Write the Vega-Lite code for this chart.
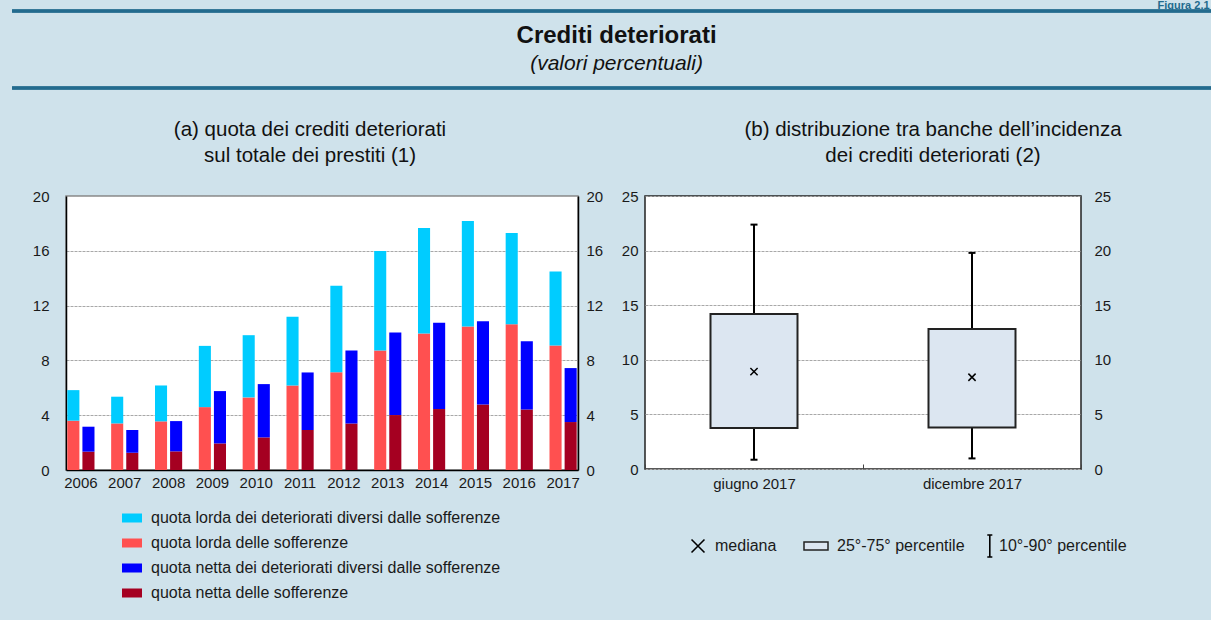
{
  "$schema": "https://vega.github.io/schema/vega-lite/v6.json",
  "background": "#cfe2eb",
  "padding": {"left": 10, "top": 0, "right": 0, "bottom": 18},
  "config": {
    "font": "Liberation Sans",
    "view": {"fill": "white"},
    "axis": {"labelFont": "Liberation Sans", "labelFontSize": 15, "labelColor": "#1a1a1a"},
    "legend": {"labelFont": "Liberation Sans", "labelColor": "#1a1a1a"},
    "title": {"font": "Liberation Sans"}
  },
  "datasets": {
    "testata": [
      {"ruolo": "titolo", "testo": "Crediti deteriorati"},
      {"ruolo": "sottotitolo", "testo": "(valori percentuali)"},
      {"ruolo": "figura", "testo": "Figura 2.1"}
    ],
    "barre": [
      {"anno": "2006", "tipo": "lorda", "serie": "quota lorda delle sofferenze", "inizio": 0, "fine": 3.6},
      {"anno": "2006", "tipo": "lorda", "serie": "quota lorda dei deteriorati diversi dalle sofferenze", "inizio": 3.6, "fine": 5.83},
      {"anno": "2006", "tipo": "netta", "serie": "quota netta delle sofferenze", "inizio": 0, "fine": 1.34},
      {"anno": "2006", "tipo": "netta", "serie": "quota netta dei deteriorati diversi dalle sofferenze", "inizio": 1.34, "fine": 3.16},
      {"anno": "2007", "tipo": "lorda", "serie": "quota lorda delle sofferenze", "inizio": 0, "fine": 3.4},
      {"anno": "2007", "tipo": "lorda", "serie": "quota lorda dei deteriorati diversi dalle sofferenze", "inizio": 3.4, "fine": 5.35},
      {"anno": "2007", "tipo": "netta", "serie": "quota netta delle sofferenze", "inizio": 0, "fine": 1.26},
      {"anno": "2007", "tipo": "netta", "serie": "quota netta dei deteriorati diversi dalle sofferenze", "inizio": 1.26, "fine": 2.92},
      {"anno": "2008", "tipo": "lorda", "serie": "quota lorda delle sofferenze", "inizio": 0, "fine": 3.55},
      {"anno": "2008", "tipo": "lorda", "serie": "quota lorda dei deteriorati diversi dalle sofferenze", "inizio": 3.55, "fine": 6.17},
      {"anno": "2008", "tipo": "netta", "serie": "quota netta delle sofferenze", "inizio": 0, "fine": 1.36},
      {"anno": "2008", "tipo": "netta", "serie": "quota netta dei deteriorati diversi dalle sofferenze", "inizio": 1.36, "fine": 3.57},
      {"anno": "2009", "tipo": "lorda", "serie": "quota lorda delle sofferenze", "inizio": 0, "fine": 4.59},
      {"anno": "2009", "tipo": "lorda", "serie": "quota lorda dei deteriorati diversi dalle sofferenze", "inizio": 4.59, "fine": 9.06},
      {"anno": "2009", "tipo": "netta", "serie": "quota netta delle sofferenze", "inizio": 0, "fine": 1.94},
      {"anno": "2009", "tipo": "netta", "serie": "quota netta dei deteriorati diversi dalle sofferenze", "inizio": 1.94, "fine": 5.76},
      {"anno": "2010", "tipo": "lorda", "serie": "quota lorda delle sofferenze", "inizio": 0, "fine": 5.3},
      {"anno": "2010", "tipo": "lorda", "serie": "quota lorda dei deteriorati diversi dalle sofferenze", "inizio": 5.3, "fine": 9.84},
      {"anno": "2010", "tipo": "netta", "serie": "quota netta delle sofferenze", "inizio": 0, "fine": 2.38},
      {"anno": "2010", "tipo": "netta", "serie": "quota netta dei deteriorati diversi dalle sofferenze", "inizio": 2.38, "fine": 6.27},
      {"anno": "2011", "tipo": "lorda", "serie": "quota lorda delle sofferenze", "inizio": 0, "fine": 6.17},
      {"anno": "2011", "tipo": "lorda", "serie": "quota lorda dei deteriorati diversi dalle sofferenze", "inizio": 6.17, "fine": 11.18},
      {"anno": "2011", "tipo": "netta", "serie": "quota netta delle sofferenze", "inizio": 0, "fine": 2.92},
      {"anno": "2011", "tipo": "netta", "serie": "quota netta dei deteriorati diversi dalle sofferenze", "inizio": 2.92, "fine": 7.12},
      {"anno": "2012", "tipo": "lorda", "serie": "quota lorda delle sofferenze", "inizio": 0, "fine": 7.14},
      {"anno": "2012", "tipo": "lorda", "serie": "quota lorda dei deteriorati diversi dalle sofferenze", "inizio": 7.14, "fine": 13.44},
      {"anno": "2012", "tipo": "netta", "serie": "quota netta delle sofferenze", "inizio": 0, "fine": 3.4},
      {"anno": "2012", "tipo": "netta", "serie": "quota netta dei deteriorati diversi dalle sofferenze", "inizio": 3.4, "fine": 8.72},
      {"anno": "2013", "tipo": "lorda", "serie": "quota lorda delle sofferenze", "inizio": 0, "fine": 8.72},
      {"anno": "2013", "tipo": "lorda", "serie": "quota lorda dei deteriorati diversi dalle sofferenze", "inizio": 8.72, "fine": 15.99},
      {"anno": "2013", "tipo": "netta", "serie": "quota netta delle sofferenze", "inizio": 0, "fine": 4.01},
      {"anno": "2013", "tipo": "netta", "serie": "quota netta dei deteriorati diversi dalle sofferenze", "inizio": 4.01, "fine": 10.04},
      {"anno": "2014", "tipo": "lorda", "serie": "quota lorda delle sofferenze", "inizio": 0, "fine": 9.96},
      {"anno": "2014", "tipo": "lorda", "serie": "quota lorda dei deteriorati diversi dalle sofferenze", "inizio": 9.96, "fine": 17.67},
      {"anno": "2014", "tipo": "netta", "serie": "quota netta delle sofferenze", "inizio": 0, "fine": 4.45},
      {"anno": "2014", "tipo": "netta", "serie": "quota netta dei deteriorati diversi dalle sofferenze", "inizio": 4.45, "fine": 10.74},
      {"anno": "2015", "tipo": "lorda", "serie": "quota lorda delle sofferenze", "inizio": 0, "fine": 10.47},
      {"anno": "2015", "tipo": "lorda", "serie": "quota lorda dei deteriorati diversi dalle sofferenze", "inizio": 10.47, "fine": 18.18},
      {"anno": "2015", "tipo": "netta", "serie": "quota netta delle sofferenze", "inizio": 0, "fine": 4.79},
      {"anno": "2015", "tipo": "netta", "serie": "quota netta dei deteriorati diversi dalle sofferenze", "inizio": 4.79, "fine": 10.86},
      {"anno": "2016", "tipo": "lorda", "serie": "quota lorda delle sofferenze", "inizio": 0, "fine": 10.64},
      {"anno": "2016", "tipo": "lorda", "serie": "quota lorda dei deteriorati diversi dalle sofferenze", "inizio": 10.64, "fine": 17.3},
      {"anno": "2016", "tipo": "netta", "serie": "quota netta delle sofferenze", "inizio": 0, "fine": 4.42},
      {"anno": "2016", "tipo": "netta", "serie": "quota netta dei deteriorati diversi dalle sofferenze", "inizio": 4.42, "fine": 9.4},
      {"anno": "2017", "tipo": "lorda", "serie": "quota lorda delle sofferenze", "inizio": 0, "fine": 9.09},
      {"anno": "2017", "tipo": "lorda", "serie": "quota lorda dei deteriorati diversi dalle sofferenze", "inizio": 9.09, "fine": 14.48},
      {"anno": "2017", "tipo": "netta", "serie": "quota netta delle sofferenze", "inizio": 0, "fine": 3.5},
      {"anno": "2017", "tipo": "netta", "serie": "quota netta dei deteriorati diversi dalle sofferenze", "inizio": 3.5, "fine": 7.44}
    ],
    "box": [
      {"periodo": "giugno 2017", "p10": 0.85, "p25": 3.75, "mediana": 8.92, "p75": 14.19, "p90": 22.38},
      {"periodo": "dicembre 2017", "p10": 0.97, "p25": 3.81, "mediana": 8.4, "p75": 12.82, "p90": 19.79}
    ]
  },
  "spacing": 28,
  "vconcat": [
    {
      "width": 1147,
      "height": 89,
      "data": {"name": "testata"},
      "view": {"stroke": null, "fill": null},
      "layer": [
        {
          "mark": {"type": "rule", "color": "#236b8e", "strokeWidth": 3},
          "encoding": {
            "x": {"datum": -0.047, "type": "quantitative", "scale": {"domain": [0, 1], "zero": false, "nice": false}, "axis": null},
            "x2": {"datum": 1},
            "y": {"datum": 0.124, "type": "quantitative", "scale": {"domain": [0, 1], "reverse": true}, "axis": null}
          }
        },
        {
          "mark": {"type": "rule", "color": "#236b8e", "strokeWidth": 3},
          "encoding": {
            "x": {"datum": -0.047, "type": "quantitative", "scale": {"domain": [0, 1], "zero": false, "nice": false}, "axis": null},
            "x2": {"datum": 1},
            "y": {"datum": 0.99, "type": "quantitative", "scale": {"domain": [0, 1], "reverse": true}, "axis": null}
          }
        },
        {
          "transform": [{"filter": "datum.ruolo === 'titolo'"}],
          "mark": {"type": "text", "fontSize": 24, "fontWeight": "bold", "color": "#111", "baseline": "alphabetic", "align": "center"},
          "encoding": {
            "x": {"datum": 0.48, "type": "quantitative", "scale": {"domain": [0, 1], "zero": false, "nice": false}, "axis": null},
            "y": {"datum": 0.483, "type": "quantitative", "scale": {"domain": [0, 1], "reverse": true}, "axis": null},
            "text": {"field": "testo"}
          }
        },
        {
          "transform": [{"filter": "datum.ruolo === 'sottotitolo'"}],
          "mark": {"type": "text", "fontSize": 21, "fontStyle": "italic", "color": "#111", "baseline": "alphabetic", "align": "center"},
          "encoding": {
            "x": {"datum": 0.48, "type": "quantitative", "scale": {"domain": [0, 1], "zero": false, "nice": false}, "axis": null},
            "y": {"datum": 0.787, "type": "quantitative", "scale": {"domain": [0, 1], "reverse": true}, "axis": null},
            "text": {"field": "testo"}
          }
        },
        {
          "transform": [{"filter": "datum.ruolo === 'figura'"}],
          "mark": {"type": "text", "fontSize": 11, "fontWeight": "bold", "color": "#236b8e", "baseline": "top", "align": "right"},
          "encoding": {
            "x": {"datum": 0.997, "type": "quantitative", "scale": {"domain": [0, 1], "zero": false, "nice": false}, "axis": null},
            "y": {"datum": 0, "type": "quantitative", "scale": {"domain": [0, 1], "reverse": true}, "axis": null},
            "text": {"field": "testo"}
          }
        }
      ]
    },
    {
      "spacing": 16,
      "resolve": {"legend": {"color": "independent", "shape": "independent", "fill": "independent", "stroke": "independent"}},
      "hconcat": [
        {
          "width": 512,
          "height": 274,
          "data": {"name": "barre"},
          "view": {"stroke": "#888888", "strokeWidth": 1.5, "fill": "white"},
          "title": {"text": ["(a) quota dei crediti deteriorati", "sul totale dei prestiti (1)"], "fontSize": 20.5, "fontWeight": "normal", "lineHeight": 26, "offset": 23, "dx": -12, "anchor": "middle", "baseline": "top", "color": "#111"},
          "encoding": {
            "x": {"field": "anno", "type": "ordinal", "scale": {"paddingInner": 0.38, "paddingOuter": 0.03},
              "axis": {"title": null, "labelAngle": 0, "ticks": false, "domainColor": "black", "domainWidth": 1.5, "labelPadding": 5}},
            "xOffset": {"field": "tipo", "type": "nominal", "scale": {"domain": ["lorda", "netta"], "paddingInner": 0.2}},
            "color": {"field": "serie", "type": "nominal",
              "scale": {"domain": ["quota lorda dei deteriorati diversi dalle sofferenze", "quota lorda delle sofferenze", "quota netta dei deteriorati diversi dalle sofferenze", "quota netta delle sofferenze"],
                "range": ["#00ccff", "#ff5050", "#0000ff", "#a50021"]},
              "legend": {"orient": "none", "legendX": 56, "legendY": 312, "title": null, "direction": "vertical", "padding": 0,
                "symbolType": "M-1,-0.45H1V0.45H-1Z", "symbolSize": 400, "symbolStrokeWidth": 0,
                "labelFontSize": 16, "labelOffset": 9, "rowPadding": 7, "labelLimit": 600,
                "encode": {"symbols": {"update": {"fill": {"signal": "['#33ccff', '#ff6666', '#4444ff', '#c00000'][datum.index]"}, "opacity": {"value": 1}}}}}
            }
          },
          "layer": [
            {
              "transform": [{"filter": "datum.tipo === 'lorda'"}],
              "mark": {"type": "bar"},
              "encoding": {
                "y": {"field": "fine", "type": "quantitative", "scale": {"domain": [0, 20]},
                  "axis": {"title": null, "values": [0, 4, 8, 12, 16, 20], "ticks": false, "domainColor": "black", "domainWidth": 1.5, "labelPadding": 17, "minExtent": 54,
                    "grid": true, "gridColor": "#a8a8a8", "gridDash": [3, 1], "gridWidth": 1}},
                "y2": {"field": "inizio"}
              }
            },
            {
              "transform": [{"filter": "datum.tipo === 'netta'"}],
              "mark": {"type": "bar"},
              "encoding": {
                "y": {"field": "fine", "type": "quantitative", "scale": {"domain": [0, 20]},
                  "axis": {"title": null, "orient": "right", "values": [0, 4, 8, 12, 16, 20], "ticks": false, "domainColor": "black", "domainWidth": 1.5, "labelPadding": 8, "grid": false}},
                "y2": {"field": "inizio"}
              }
            }
          ],
          "resolve": {"scale": {"y": "independent"}}
        },
        {
          "width": 436,
          "height": 273,
          "data": {"name": "box"},
          "view": {"stroke": "#222222", "strokeWidth": 1.5, "fill": "white"},
          "title": {"text": ["(b) distribuzione tra banche dell’incidenza", "dei crediti deteriorati (2)"], "fontSize": 20.5, "fontWeight": "normal", "lineHeight": 26, "offset": 23, "dx": 70, "anchor": "middle", "baseline": "top", "color": "#111"},
          "encoding": {
            "x": {"field": "periodo", "type": "nominal", "sort": null,
              "scale": {"domain": ["giugno 2017", "dicembre 2017"], "paddingInner": 0, "paddingOuter": 0},
              "axis": {"title": null, "labelAngle": 0, "tickBand": "extent", "tickSize": -5, "tickColor": "#444", "domain": false, "labelPadding": 12}}
          },
          "layer": [
            {
              "mark": {"type": "rule", "strokeWidth": 2},
              "encoding": {
                "y": {"field": "p10", "type": "quantitative", "scale": {"domain": [0, 25]},
                  "axis": {"title": null, "values": [0, 5, 10, 15, 20, 25], "ticks": false, "domain": false, "labelPadding": 7,
                    "grid": true, "gridColor": "#a8a8a8", "gridDash": [3, 1], "gridWidth": 1}},
                "y2": {"field": "p90"},
                "stroke": {"datum": "10°-90° percentile", "type": "nominal", "scale": {"range": ["black"]},
                  "legend": {"orient": "none", "legendX": 324, "legendY": 338, "title": null, "padding": 0,
                    "symbolType": "M0.57,-1H1.03M0.8,-1V1M0.57,1H1.03", "symbolSize": 484, "symbolStrokeWidth": 1.6,
                    "labelFontSize": 16, "labelOffset": 6, "labelLimit": 400,
                    "encode": {"symbols": {"update": {"fill": {"value": "transparent"}, "stroke": {"value": "black"}, "strokeWidth": {"value": 1.6}, "opacity": {"value": 1}}}}}}
              }
            },
            {
              "mark": {"type": "bar", "size": 87, "stroke": "#222222", "strokeWidth": 2, "opacity": 1},
              "encoding": {
                "y": {"field": "p25", "type": "quantitative", "scale": {"domain": [0, 25]},
                  "axis": {"title": null, "orient": "right", "values": [0, 5, 10, 15, 20, 25], "ticks": false, "domain": false, "labelPadding": 13, "grid": false}},
                "y2": {"field": "p75"},
                "fill": {"datum": "25°-75° percentile", "type": "nominal", "scale": {"range": ["#dce6f1"]},
                  "legend": {"orient": "none", "legendX": 158, "legendY": 337, "title": null, "padding": 0,
                    "symbolType": "M-1,-0.33H1V0.33H-1Z", "symbolSize": 576,
                    "labelFontSize": 16, "labelOffset": 8, "labelLimit": 400,
                    "encode": {"symbols": {"update": {"fill": {"value": "#e6edf5"}, "stroke": {"value": "#777777"}, "strokeWidth": {"value": 1}, "opacity": {"value": 1}}}}}}
              }
            },
            {
              "mark": {"type": "tick", "size": 7, "thickness": 2, "color": "black", "opacity": 1},
              "encoding": {"y": {"field": "p10", "type": "quantitative", "scale": {"domain": [0, 25]}, "axis": null}}
            },
            {
              "mark": {"type": "tick", "size": 7, "thickness": 2, "color": "black", "opacity": 1},
              "encoding": {"y": {"field": "p90", "type": "quantitative", "scale": {"domain": [0, 25]}, "axis": null}}
            },
            {
              "mark": {"type": "point", "filled": false, "size": 180, "strokeWidth": 1.5, "color": "black", "opacity": 1},
              "encoding": {
                "y": {"field": "mediana", "type": "quantitative", "scale": {"domain": [0, 25]}, "axis": null},
                "shape": {"datum": "mediana", "type": "nominal",
                  "scale": {"range": ["M-0.54,-0.54L0.54,0.54M-0.54,0.54L0.54,-0.54"]},
                  "legend": {"orient": "none", "legendX": 40, "legendY": 337, "title": null, "padding": 0,
                    "symbolSize": 576, "symbolStrokeWidth": 1.6,
                    "labelFontSize": 16, "labelOffset": 4, "labelLimit": 400,
                    "encode": {"symbols": {"update": {"fill": {"value": "transparent"}, "stroke": {"value": "black"}, "strokeWidth": {"value": 1.6}, "opacity": {"value": 1}}}}}
                }
              }
            }
          ],
          "resolve": {"scale": {"y": "independent"}}
        }
      ]
    }
  ]
}
